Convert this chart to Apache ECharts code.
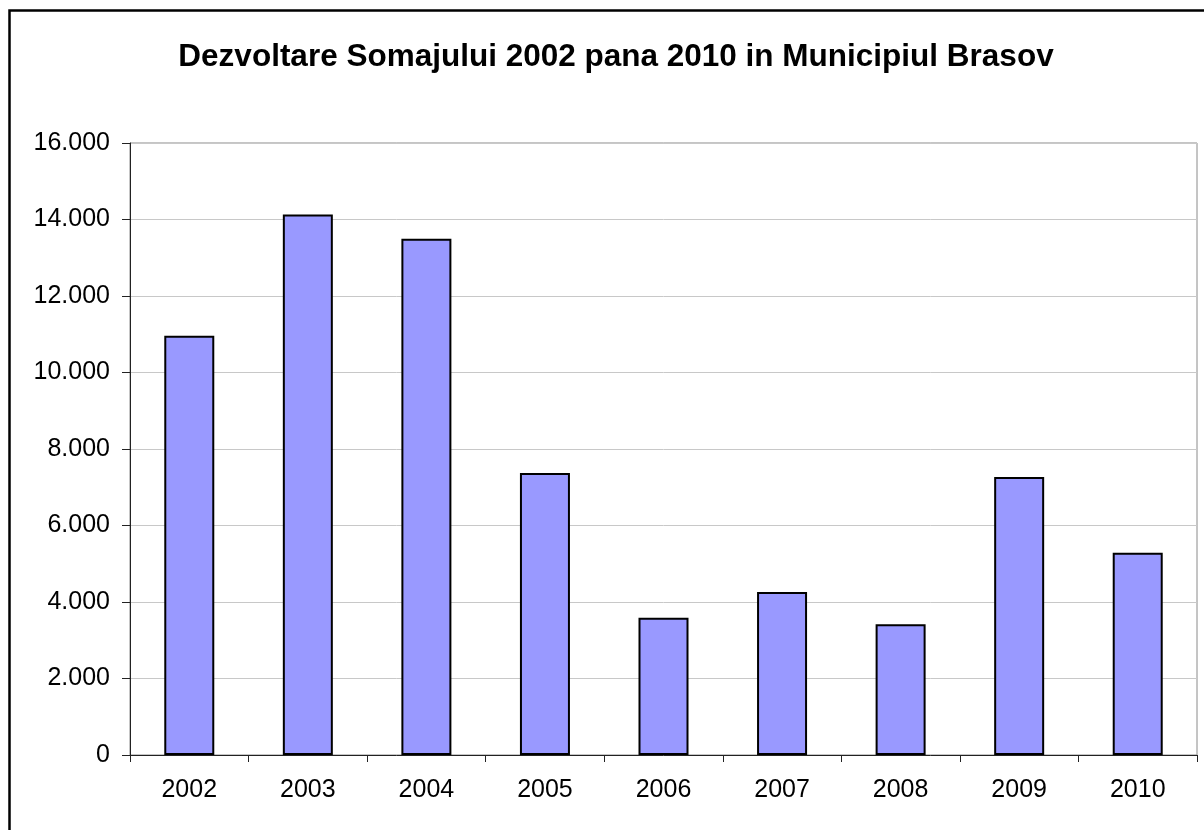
<!DOCTYPE html>
<html>
<head>
<meta charset="utf-8">
<title>Dezvoltare Somajului 2002 pana 2010</title>
<script src="https://cdn.jsdelivr.net/npm/echarts@6/dist/echarts.min.js"></script>
<style>
	html, body { margin: 0; padding: 0; background: #fff; }
	#chart { width: 1204px; height: 830px; }
</style>
</head>
<body>
<div id="chart"></div>
<script>
	//date
	var titleText = 'Dezvoltare Somajului 2002 pana 2010 in Municipiul Brasov';
	var years = ['2002', '2003', '2004', '2005', '2006', '2007', '2008', '2009', '2010'];
	var someri = [10960, 14130, 13500, 7370, 3590, 4260, 3420, 7270, 5290];
	var axisMax = 16000;
	var axisStep = 2000;

	//16000 -> 16.000
	function fmt(v) {
		return String(v).replace(/\B(?=(\d{3})+(?!\d))/g, '.');
	}

	var myChart = echarts.init(document.getElementById('chart'));
	myChart.setOption({
		animation: false,
		backgroundColor: '#fff',
		textStyle: { fontFamily: 'Liberation Sans, Arial, sans-serif' },
		title: {
			text: titleText,
			left: 611,
			textAlign: 'center',
			top: 36,
			textStyle: { fontSize: 31.5, fontWeight: 'bold', color: '#000', fontFamily: 'Liberation Sans, Arial, sans-serif' }
		},
		//rama graficului
		graphic: [{
			type: 'rect',
			shape: { x: 9.5, y: 10.5, width: 1400, height: 1000 },
			style: { fill: 'none', stroke: '#000', lineWidth: 2.5 },
			silent: true
		}],
		grid: {
			left: 130, top: 143, width: 1067, height: 612,
			show: true, borderColor: '#8a8a8a', borderWidth: 1,
			containLabel: false
		},
		xAxis: {
			type: 'category',
			data: years,
			axisLine: { lineStyle: { color: '#222', width: 1 } },
			axisTick: { show: true, length: 7, alignWithLabel: false, lineStyle: { color: '#222' } },
			axisLabel: { color: '#000', fontSize: 25, margin: 23 },
			splitLine: { show: false }
		},
		yAxis: {
			type: 'value',
			min: 0, max: axisMax, interval: axisStep,
			axisLine: { show: true, lineStyle: { color: '#222', width: 1 } },
			axisTick: { show: true, length: 8, lineStyle: { color: '#222' } },
			axisLabel: { color: '#000', fontSize: 25, margin: 20, formatter: fmt },
			splitLine: { lineStyle: { color: '#c8c8c8', width: 1 } }
		},
		series: [{
			type: 'bar',
			data: someri,
			barWidth: 50,
			itemStyle: { color: '#9999ff', borderColor: '#000', borderWidth: 2 }
		}]
	});
</script>
</body>
</html>
